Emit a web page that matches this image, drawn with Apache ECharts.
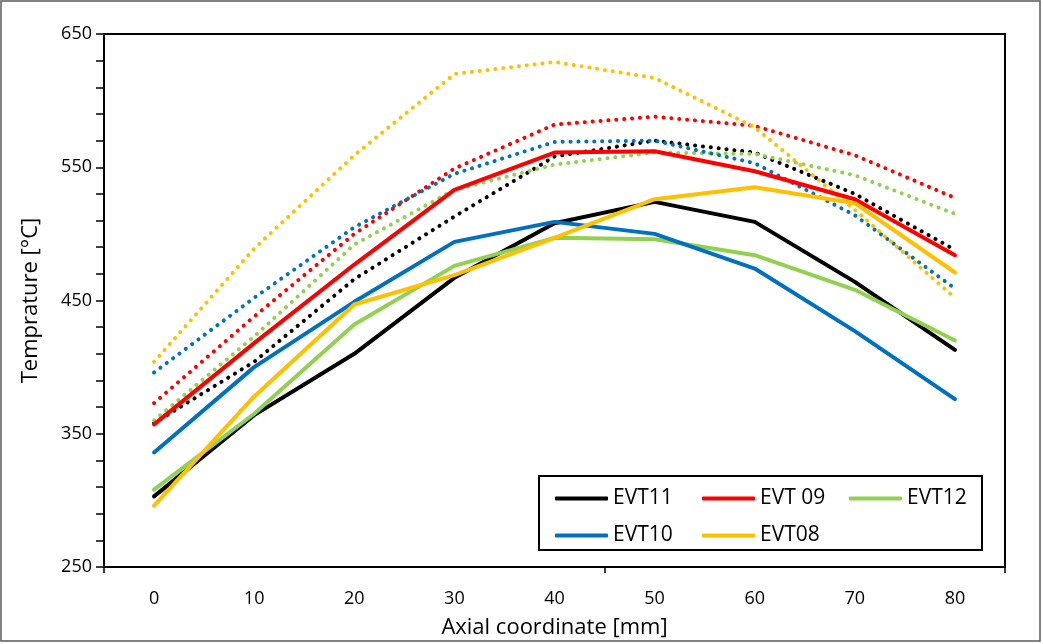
<!DOCTYPE html>
<html lang="en">
<head>
    <meta charset="UTF-8">
    <title>Temprature profile</title>
    <script src="https://cdn.jsdelivr.net/npm/echarts@6.0.0/dist/echarts.min.js"></script>
    <style>
        body { margin: 0; background: #fff; }
        #grafica { width: 1043px; height: 644px; }
    </style>
</head>
<body>
    <div id="grafica"></div>
    <script>
        // categorias del eje x [mm]
        const axial = ['0', '10', '20', '30', '40', '50', '60', '70', '80'];

        // lineas continuas (leyenda)
        const evt11 = [303, 364, 410, 467, 508, 524, 509, 464, 413];
        const evt09 = [357, 418, 477, 533, 561, 562, 547, 526, 484];
        const evt12 = [308, 365, 432, 476, 497, 496, 484, 458, 420];
        const evt10 = [336, 400, 449, 494, 509, 500, 474, 427, 376];
        const evt08 = [296, 378, 447, 469, 497, 526, 535, 523, 471];

        // lineas punteadas
        const evt11Dot = [358, 404, 466, 513, 558, 570, 561, 530, 488];
        const evt09Dot = [373, 438, 500, 549, 582, 588, 581, 559, 527];
        const evt12Dot = [360, 423, 492, 533, 552, 561, 560, 544, 515];
        const evt10Dot = [396, 452, 505, 545, 569, 570, 553, 514, 459];
        const evt08Dot = [404, 489, 559, 620, 629, 617, 580, 518, 452];

        // etiquetas del eje y (marcas cada 20, etiqueta cada 100)
        const yLabels = [250, 350, 450, 550, 650];

        const fuente = 'Open Sans';

        function solida(nombre, datos, color) {
            return {
                name: nombre, type: 'line', data: datos, symbol: 'none', z: 3,
                itemStyle: { color: color },
                lineStyle: { color: color, width: 4, cap: 'round', join: 'round' }
            };
        }
        function punteada(datos, color) {
            return {
                name: '', type: 'line', data: datos, symbol: 'none', z: 2,
                itemStyle: { color: color },
                lineStyle: { color: color, width: 4, type: [0.1, 7.8], cap: 'round' }
            };
        }

        let myChart = echarts.init(document.getElementById('grafica'), null, { renderer: 'canvas' });

        let option = {
            animation: false,
            backgroundColor: '#fff',
            textStyle: { fontFamily: fuente },
            grid: {
                left: 104, right: 38, top: 34, bottom: 77,
                show: true, borderColor: '#000', borderWidth: 2
            },
            graphic: [{
                type: 'rect', shape: { x: 1, y: 1, width: 1039, height: 640 },
                style: { fill: 'none', stroke: '#595959', lineWidth: 1.5 }, silent: true
            }],
            legend: {
                data: ['EVT11', 'EVT 09', 'EVT12', 'EVT10', 'EVT08'],
                left: 539, top: 476, width: 430,
                padding: [12, 2, 4, 16],
                itemGap: 16, itemWidth: 53, itemHeight: 4,
                icon: 'roundRect',
                backgroundColor: '#fff', borderColor: '#000', borderWidth: 2,
                textStyle: { fontFamily: fuente, fontSize: 21, color: '#000', width: 73, lineHeight: 21 }
            },
            xAxis: [{
                type: 'category', data: axial, boundaryGap: true,
                name: 'Axial coordinate [mm]', nameLocation: 'middle', nameGap: 50,
                nameTextStyle: { fontFamily: fuente, fontSize: 22, color: '#000' },
                axisLine: { lineStyle: { color: '#000', width: 2 } },
                axisTick: { show: false },
                axisLabel: { fontFamily: fuente, fontSize: 18, color: '#000', margin: 23 }
            }, {
                // eje auxiliar: solo la marca entre 40 y 50
                type: 'value', min: 0, max: 9, interval: 5, position: 'bottom',
                axisLine: { show: false },
                axisTick: { show: true, length: 6, lineStyle: { color: '#000', width: 1.5 } },
                axisLabel: { show: false }, splitLine: { show: false }
            }],
            yAxis: {
                type: 'value', min: 250, max: 650, interval: 20,
                name: 'Temprature [°C]', nameLocation: 'middle', nameGap: 62,
                nameTextStyle: { fontFamily: fuente, fontSize: 22, color: '#000' },
                axisLine: { show: true, lineStyle: { color: '#000', width: 2 } },
                axisTick: { show: true, length: 8, lineStyle: { color: '#000', width: 1.5 } },
                axisLabel: {
                    fontFamily: fuente, fontSize: 18, color: '#000', margin: 12,
                    formatter: v => yLabels.includes(Math.round(v)) ? String(Math.round(v)) : ''
                },
                splitLine: { show: false }
            },
            series: [
                punteada(evt11Dot, '#000000'),
                punteada(evt09Dot, '#FF0000'),
                punteada(evt12Dot, '#92D050'),
                punteada(evt10Dot, '#0070C0'),
                punteada(evt08Dot, '#FFC000'),
                solida('EVT11', evt11, '#000000'),
                solida('EVT 09', evt09, '#FF0000'),
                solida('EVT12', evt12, '#92D050'),
                solida('EVT10', evt10, '#0070C0'),
                solida('EVT08', evt08, '#FFC000'),
                // serie vacia para que se dibuje el eje auxiliar
                { name: '', type: 'line', xAxisIndex: 1, data: [], silent: true }
            ]
        };

        myChart.setOption(option);
    </script>
</body>
</html>
